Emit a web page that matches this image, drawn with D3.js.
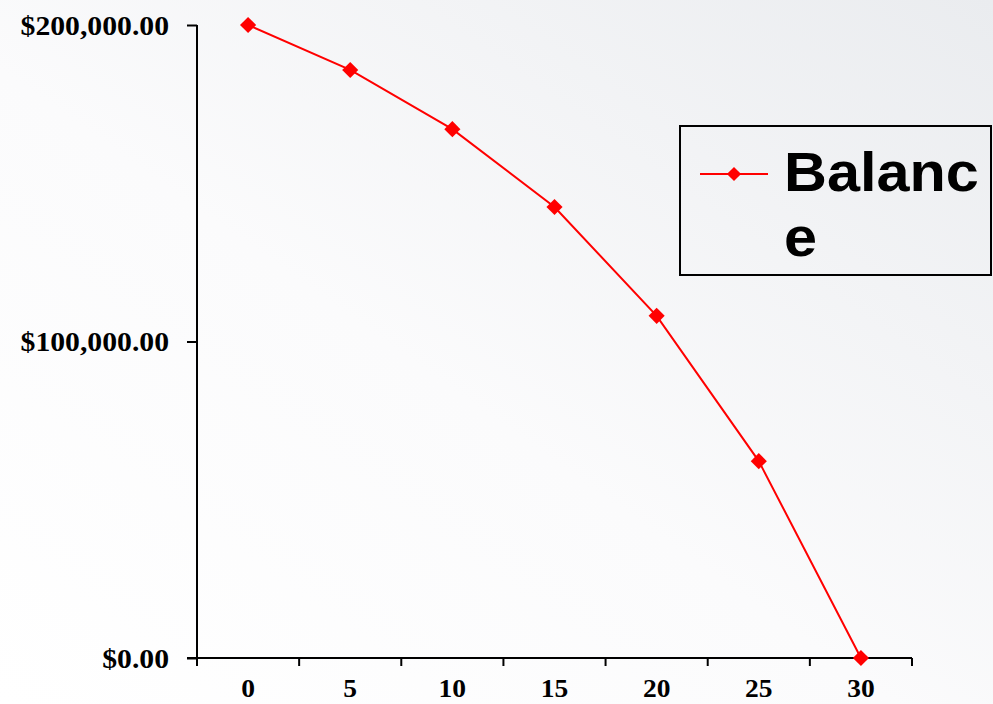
<!DOCTYPE html>
<html><head><meta charset="utf-8">
<script src="https://cdn.jsdelivr.net/npm/d3@7"></script>
<style>html,body{margin:0;padding:0;background:#fff;overflow:hidden}</style>
</head><body>
<svg id="c" width="993" height="704"></svg>
<script>
const categories = ["0","5","10","15","20","25","30"];
const balance = [200000, 185800, 167100, 142500, 108100, 62200, 0];
const yTicks = [0, 100000, 200000];
const seriesName = "Balance";

const svg = d3.select("#c");
const defs = svg.append("defs");
const g = defs.append("linearGradient").attr("id","bg")
  .attr("x1","0%").attr("y1","100%").attr("x2","100%").attr("y2","0%");
g.append("stop").attr("offset","0%").attr("stop-color","#ffffff");
g.append("stop").attr("offset","45%").attr("stop-color","#fbfbfc");
g.append("stop").attr("offset","100%").attr("stop-color","#eaecef");
svg.append("rect").attr("width",993).attr("height",704).attr("fill","url(#bg)");

const x = d3.scaleBand().domain(categories).range([197, 912]);
const y = d3.scaleLinear().domain([0, 200000]).range([658, 25]);

const fmt = v => "$" + d3.format(",.2f")(v);

const yAxis = svg.append("g").attr("transform","translate(197,0)")
  .call(d3.axisLeft(y).tickValues(yTicks).tickFormat(fmt).tickSize(10).tickPadding(14));
const xAxis = svg.append("g").attr("transform","translate(0,658)")
  .call(d3.axisBottom(x).tickSize(0).tickPadding(30));
// tick marks at band boundaries
const bounds = categories.map(c => x(c)).concat([x.range()[1]]);
svg.append("g").selectAll("line").data(bounds).join("line")
  .attr("x1", d => d).attr("x2", d => d).attr("y1", 658).attr("y2", 666)
  .attr("stroke","#000").attr("stroke-width",2);

[yAxis, xAxis].forEach(a => {
  a.select(".domain").attr("stroke","#000").attr("stroke-width",2);
  a.selectAll(".tick line").attr("stroke","#000").attr("stroke-width",2);
  a.selectAll("text").attr("font-family","'Liberation Serif','Times New Roman',serif")
    .attr("font-weight","bold").attr("font-size",27).attr("fill","#000");
});
yAxis.select(".domain").attr("d","M0,25V658");
xAxis.select(".domain").attr("d","M187,0H912");
yAxis.selectAll(".tick text").attr("x",0).attr("dy","0.34em")
  .attr("transform","translate(-28,0) scale(1.1,1)");
xAxis.selectAll(".tick text").attr("x",0).attr("y",39).attr("dy",0).attr("font-size",25)
  .attr("transform","scale(1.1,1)");

const cx = d => x(d) + x.bandwidth()/2;
const line = d3.line().x((d,i) => cx(categories[i])).y(d => y(d));
svg.append("path").datum(balance).attr("d", line)
  .attr("fill","none").attr("stroke","#ff0000").attr("stroke-width",2);

const diamond = d3.symbol().type(d3.symbolSquare).size(130);
svg.append("g").selectAll("path").data(balance).join("path")
  .attr("d", diamond)
  .attr("transform",(d,i) => `translate(${cx(categories[i])},${y(d)}) rotate(45)`)
  .attr("fill","#ff0000");

// legend
const lg = svg.append("g");
lg.append("rect").attr("x",680).attr("y",126).attr("width",311).attr("height",149)
  .attr("fill","none").attr("stroke","#000").attr("stroke-width",2);
lg.append("line").attr("x1",700).attr("x2",768).attr("y1",174).attr("y2",174)
  .attr("stroke","#ff0000").attr("stroke-width",2);
lg.append("path").attr("d", d3.symbol().type(d3.symbolSquare).size(100))
  .attr("transform","translate(734,174) rotate(45)").attr("fill","#ff0000");
const lt = lg.append("text").attr("font-family","'Liberation Sans',Arial,sans-serif")
  .attr("font-weight","bold").attr("font-size",55).attr("fill","#000")
  .attr("transform","translate(784,0) scale(1.08,1)");
lt.append("tspan").attr("x",0).attr("y",191).text(seriesName.slice(0,6));
lt.append("tspan").attr("x",0).attr("y",256).text(seriesName.slice(6));
</script>
</body></html>
